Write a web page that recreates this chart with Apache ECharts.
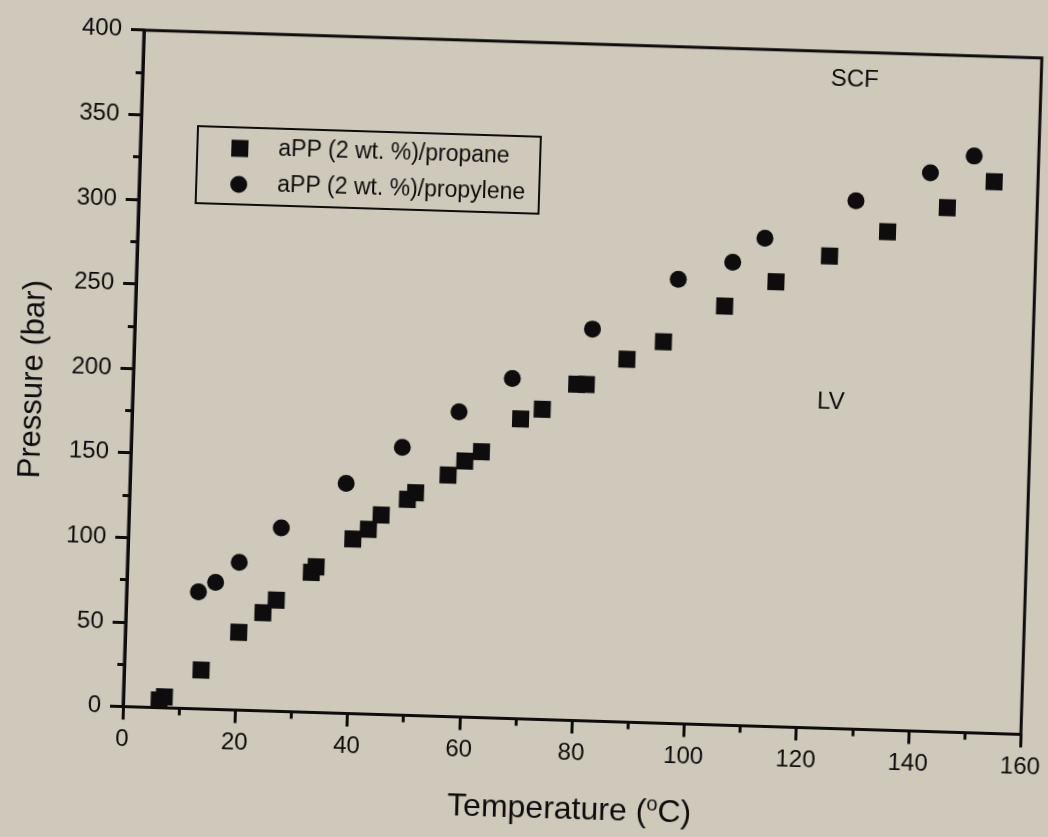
<!DOCTYPE html>
<html>
<head>
<meta charset="utf-8">
<script src="https://cdn.jsdelivr.net/npm/echarts@6/dist/echarts.min.js"></script>
<style>
  html, body { margin: 0; padding: 0; background: #cfc9bc; overflow: hidden; }
  #chart { width: 1048px; height: 837px; background: #cfc9bc;
           transform: rotate(1.776deg); transform-origin: 120.5px 706.5px; }
</style>
</head>
<body>
<div id="chart"></div>
<script>
// Data
const propaneT   = [6.4, 7.3, 13.7, 20.2, 24.4, 26.7, 32.8, 33.6, 40.0, 42.7, 44.9, 49.5, 50.9, 56.6, 59.5, 62.4, 69.2, 73.0, 79.0, 80.7, 87.8, 94.2, 104.9, 113.9, 123.3, 133.5, 144.0, 152.2];
const propaneP   = [4.5, 6.5, 23.0, 46.0, 58.0, 65.7, 82.7, 86.1, 103.2, 109.2, 117.9, 127.6, 131.7, 142.7, 151.3, 157.1, 177.2, 183.3, 198.7, 198.8, 214.4, 225.4, 247.6, 262.9, 279.1, 294.5, 309.8, 326.0];
const propyleneT = [12.8, 15.8, 19.9, 27.2, 38.5, 48.3, 58.2, 67.5, 81.5, 96.5, 106.1, 111.7, 127.7, 140.8, 148.5];
const propyleneP = [69.2, 75.1, 87.3, 108.5, 135.9, 158.3, 180.3, 201.0, 231.6, 262.6, 273.6, 288.4, 312.2, 330.1, 340.8];
const seriesNames = ['aPP (2 wt. %)/propane', 'aPP (2 wt. %)/propylene'];
const xTitle = 'Temperature ({sup|o}C)';
const yTitle = 'Pressure (bar)';
const regionLabels = ['SCF', 'LV'];

const FONT = '"Liberation Sans", Arial, Helvetica, sans-serif';
const INK = '#0e0c0c';

function pairs(xs, ys) { return xs.map((x, i) => [x, ys[i]]); }

const chart = echarts.init(document.getElementById('chart'), null, { renderer: 'canvas' });
chart.setOption({
  backgroundColor: '#cfc9bc',
  animation: false,
  grid: { left: 120.5, right: 26.7, top: 29.7, bottom: 130.5, show: true,
          borderColor: INK, borderWidth: 3, backgroundColor: 'transparent' },
  xAxis: {
    type: 'value', min: 0, max: 160, interval: 20,
    name: xTitle, nameLocation: 'middle', nameGap: 72,
    nameTextStyle: { fontSize: 32, fontFamily: FONT, color: INK,
      rich: { sup: { fontSize: 20, fontFamily: FONT, color: INK, verticalAlign: 'top', padding: [0, 0, 16, 0] } } },
    axisLine: { show: true, lineStyle: { color: INK, width: 3 } },
    axisTick: { show: true, inside: false, length: 13, lineStyle: { color: INK, width: 3 } },
    minorTick: { show: true, splitNumber: 2, length: 7, lineStyle: { color: INK, width: 3 } },
    splitLine: { show: false },
    axisLabel: { fontSize: 24, fontFamily: FONT, color: INK, margin: 21 }
  },
  yAxis: {
    type: 'value', min: 0, max: 400, interval: 50,
    name: yTitle, nameLocation: 'middle', nameGap: 84, nameRotate: 90,
    nameTextStyle: { fontSize: 31, fontFamily: FONT, color: INK, padding: [0, 28, 0, 0] },
    axisLine: { show: true, lineStyle: { color: INK, width: 3 } },
    axisTick: { show: true, inside: false, length: 13, lineStyle: { color: INK, width: 3 } },
    minorTick: { show: true, splitNumber: 2, length: 7, lineStyle: { color: INK, width: 3 } },
    splitLine: { show: false },
    axisLabel: { fontSize: 24, fontFamily: FONT, color: INK, margin: 22 }
  },
  legend: {
    orient: 'vertical', left: 180, top: 124,
    padding: [9, 14, 8, 34], itemWidth: 17, itemHeight: 17, itemGap: 12,
    borderColor: INK, borderWidth: 2, backgroundColor: 'transparent',
    textStyle: { fontSize: 23, fontFamily: FONT, color: INK, lineHeight: 24, padding: [0, 0, 0, 25] },
    data: seriesNames
  },
  graphic: [
    { type: 'text', x: 835, y: 57, style: { text: regionLabels[0], font: '24px ' + FONT, fill: INK, align: 'center', verticalAlign: 'middle' } },
    { type: 'text', x: 821, y: 380, style: { text: regionLabels[1], font: '24px ' + FONT, fill: INK, align: 'center', verticalAlign: 'middle' } }
  ],
  series: [
    { name: seriesNames[0], type: 'scatter', symbol: 'rect', symbolSize: 17,
      itemStyle: { color: INK, opacity: 1 }, data: pairs(propaneT, propaneP) },
    { name: seriesNames[1], type: 'scatter', symbol: 'circle', symbolSize: 17,
      itemStyle: { color: INK, opacity: 1 }, data: pairs(propyleneT, propyleneP) }
  ]
});
</script>
</body>
</html>
